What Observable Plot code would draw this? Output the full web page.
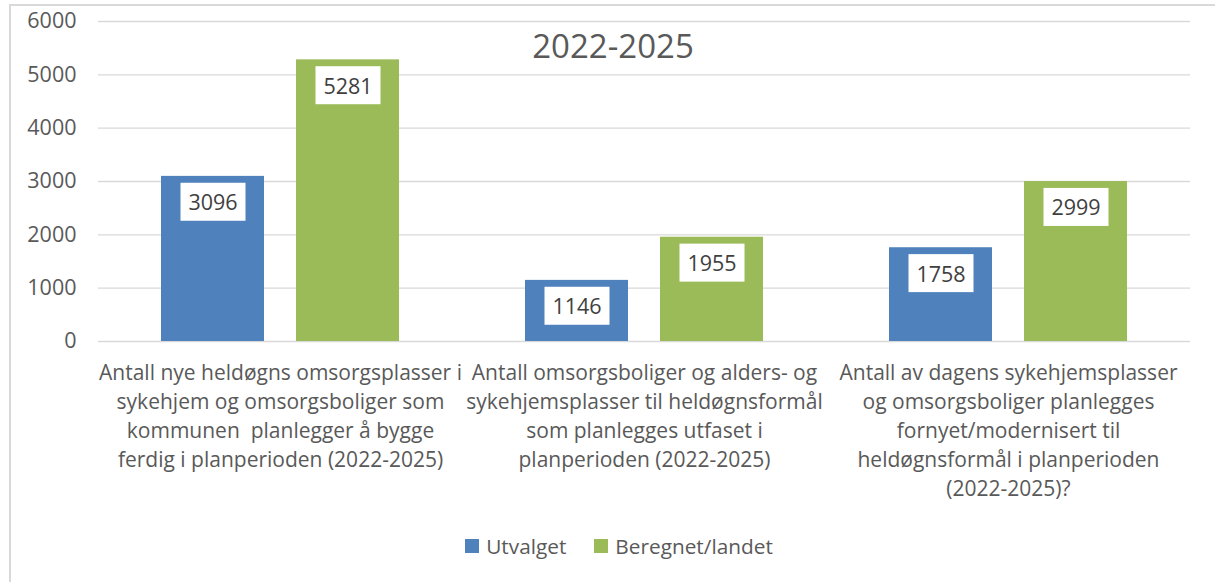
<!DOCTYPE html>
<html>
<head>
<meta charset="utf-8">
<script src="https://cdn.jsdelivr.net/npm/d3@7"></script>
<script src="https://cdn.jsdelivr.net/npm/@observablehq/plot@0.6"></script>
<style>
  html, body { margin: 0; padding: 0; background: #fff; }
  body { width: 1215px; height: 582px; overflow: hidden; position: relative; font-family: "Open Sans", Lato, sans-serif; }
  #frame { position: absolute; left: 9px; top: 4px; width: 1400px; height: 800px; border: 2px solid #d9d9d9; box-sizing: border-box; }
  #chart { position: absolute; left: 0; top: 0; }
  #title { position: absolute; left: 0; width: 1226px; top: 27px; text-align: center; font-size: 33px; line-height: 38px; color: #595959; }
  #legend { position: absolute; left: 0; width: 1238px; top: 532px; display: flex; justify-content: center; align-items: center; font-size: 20.8px; line-height: 28px; color: #595959; }
  #legend .item { display: flex; align-items: center; margin: 0 14px; }
  #legend .sw { width: 14px; height: 14px; margin-right: 7px; }
</style>
</head>
<body>
<div id="frame"></div>
<div id="chart"></div>
<div id="title">2022-2025</div>
<div id="legend"></div>
<script>
const categories = [
  "Antall nye heldøgns omsorgsplasser i\nsykehjem og omsorgsboliger som\nkommunen  planlegger å bygge\nferdig i planperioden (2022-2025)",
  "Antall omsorgsboliger og alders- og\nsykehjemsplasser til heldøgnsformål\nsom planlegges utfaset i\nplanperioden (2022-2025)",
  "Antall av dagens sykehjemsplasser\nog omsorgsboliger planlegges\nfornyet/modernisert til\nheldøgnsformål i planperioden\n(2022-2025)?"
];
const series = ["Utvalget", "Beregnet/landet"];
const utvalget = [3096, 1146, 1758];
const beregnet = [5281, 1955, 2999];
const yTicks = [0, 1000, 2000, 3000, 4000, 5000, 6000];
const colors = ["#4F81BD", "#9BBB59"];

const data = [];
categories.forEach((c, i) => {
  data.push({category: c, series: series[0], value: utvalget[i]});
  data.push({category: c, series: series[1], value: beregnet[i]});
});

const chart = Plot.plot({
  width: 1215,
  height: 510,
  marginLeft: 98,
  marginRight: 25,
  marginTop: 21,
  marginBottom: 169,
  fx: {domain: categories, padding: 0, label: null, axis: null},
  x: {domain: series, paddingInner: 0.235, paddingOuter: 0.456, axis: null},
  y: {domain: [0, 6000], label: null, axis: null},
  color: {domain: series, range: colors},
  style: {fontFamily: "'Open Sans', Lato, sans-serif", fontSize: "20px", color: "#595959", background: "transparent"},
  marks: [
    Plot.gridY(yTicks, {stroke: "#d9d9d9", strokeOpacity: 1, strokeWidth: 1.4}),
    Plot.axisY(yTicks, {tickSize: 0, tickPadding: 22, label: null, fontSize: 21.5, fill: "#595959", tickFormat: d => String(d)}),
    Plot.axisFx({anchor: "bottom", tickSize: 0, tickPadding: 18, label: null, fontSize: 21, lineHeight: 1.38, fill: "#595959", lineAnchor: "top"}),
    Plot.barY(data, {fx: "category", x: "series", y: "value", fill: "series"}),
    Plot.text(data, {fx: "category", x: "series", y: "value", text: d => String(d.value), dy: 27, fontSize: 21.5, fill: "#404040"})
  ]
});
document.getElementById("chart").appendChild(chart);

// white boxes behind the data labels
chart.querySelectorAll('g[aria-label="text"] text').forEach(t => {
  const b = t.getBBox();
  const r = document.createElementNS("http://www.w3.org/2000/svg", "rect");
  const w = 65, h = 38;
  r.setAttribute("x", b.x + b.width / 2 - w / 2);
  r.setAttribute("y", b.y + b.height / 2 - h / 2);
  r.setAttribute("width", w);
  r.setAttribute("height", h);
  r.setAttribute("fill", "#fff");
  const tr = t.getAttribute("transform");
  if (tr) r.setAttribute("transform", tr);
  t.parentNode.insertBefore(r, t);
});

const legend = document.getElementById("legend");
series.forEach((s, i) => {
  const item = document.createElement("div");
  item.className = "item";
  const sw = document.createElement("div");
  sw.className = "sw";
  sw.style.background = colors[i];
  const lab = document.createElement("span");
  lab.textContent = s;
  item.appendChild(sw);
  item.appendChild(lab);
  legend.appendChild(item);
});
</script>
</body>
</html>
